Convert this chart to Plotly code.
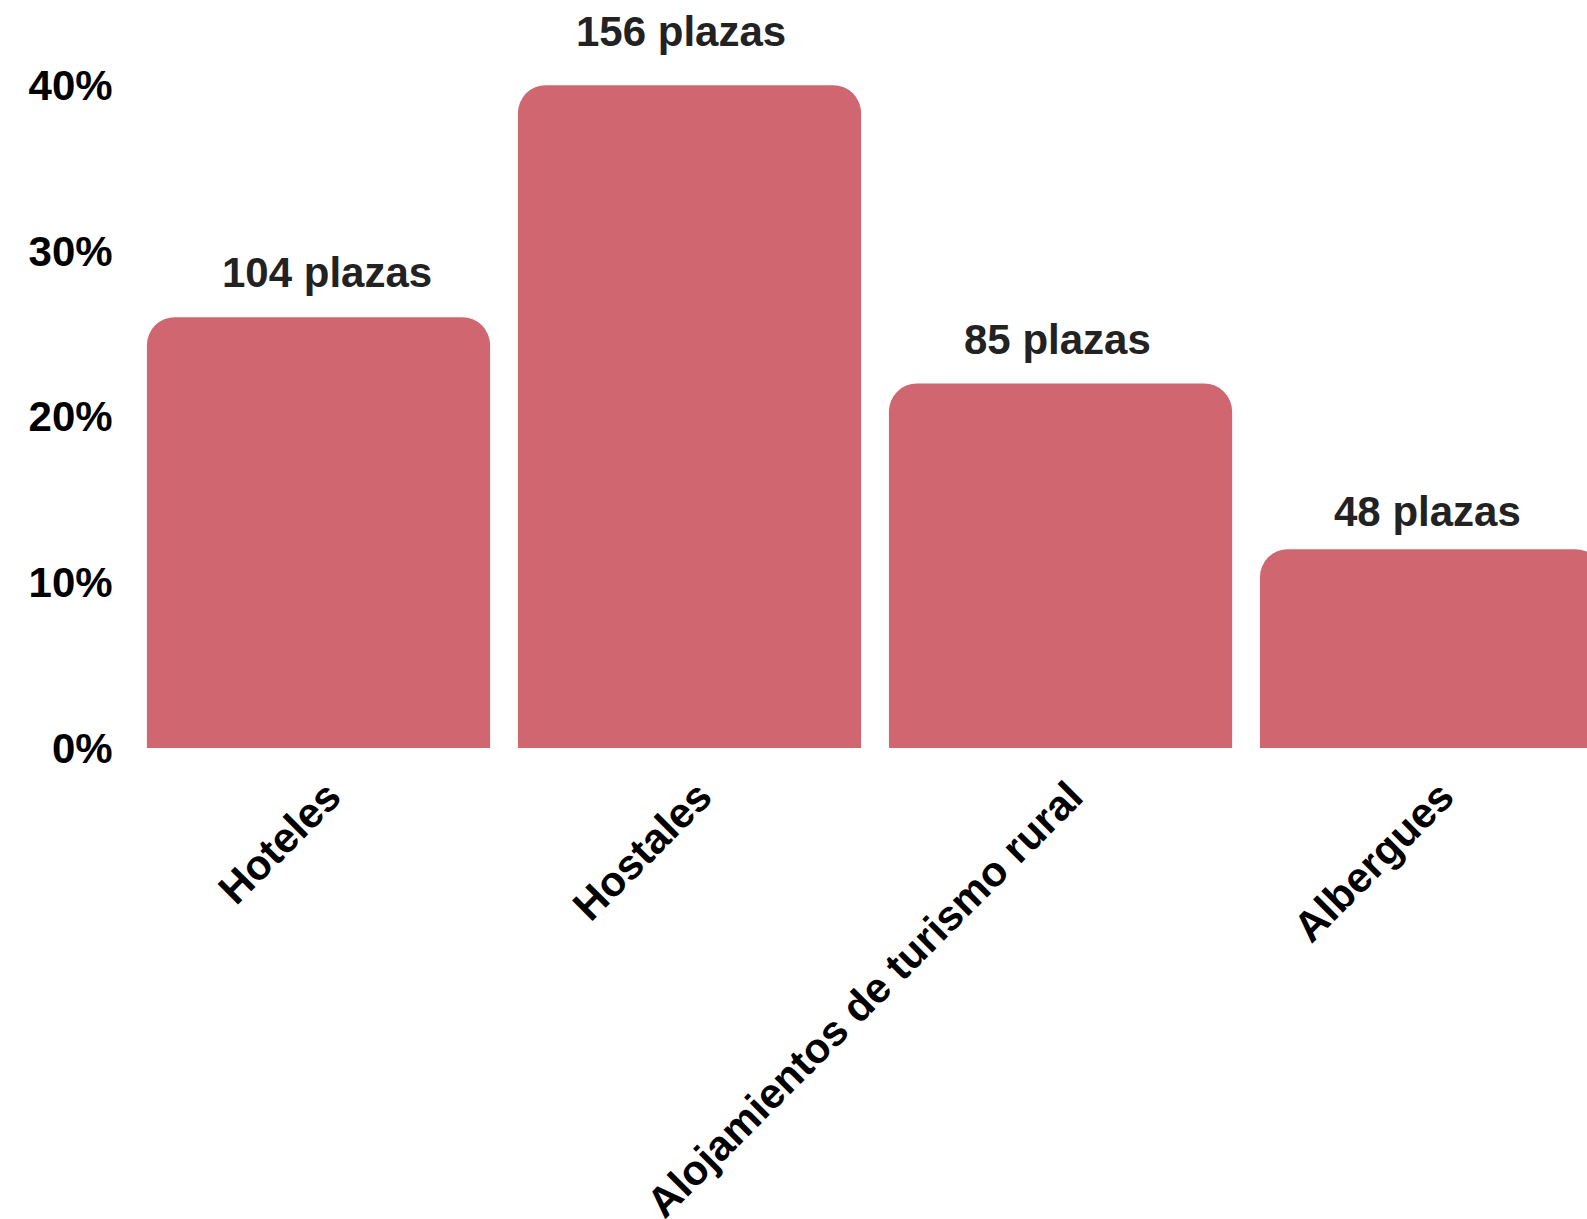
import plotly.graph_objects as go

categories = ["Hoteles", "Hostales", "Alojamientos de turismo rural", "Albergues"]
percentages = [26, 40, 22, 12]
plazas = [104, 156, 85, 48]
label_texts = [f"{p} plazas" for p in plazas]
y_tickvals = [0, 10, 20, 30, 40]
y_ticktext = ["0%", "10%", "20%", "30%", "40%"]

# small label placement offsets (pixels), styling only
label_xshift = [8, -8.5, -3, -4]
label_yshift = [19, 28, 18.5, 12.5]

BAR_COLOR = "rgb(207,102,112)"
FONT = "Liberation Sans, Arial, sans-serif"
FS = 42

fig = go.Figure()
fig.add_trace(go.Bar(
    x=categories,
    y=percentages,
    marker=dict(color=BAR_COLOR, line=dict(width=0)),
    hoverinfo="skip",
))

for c, v, t, dx, dy in zip(categories, percentages, label_texts, label_xshift, label_yshift):
    fig.add_annotation(
        x=c, y=v, text=f"<b>{t}</b>", showarrow=False,
        yanchor="bottom", xshift=dx, yshift=dy,
        font=dict(family=FONT, size=FS, color="#222222"),
    )

fig.update_layout(
    width=1587, height=1219,
    margin=dict(l=133, r=0, t=0, b=471, pad=0, autoexpand=False),
    paper_bgcolor="white", plot_bgcolor="white",
    bargap=0.075,
    barcornerradius=28,
    showlegend=False,
    font=dict(family=FONT, size=FS, color="#000000"),
)
fig.update_xaxes(
    range=[-0.5, 3.419],
    automargin=False,
    tickangle=-45,
    tickfont=dict(family=FONT, size=FS, color="#000000", weight="bold"),
    showgrid=False, zeroline=False, showline=False,
    ticks="outside", ticklen=6, tickcolor="rgba(0,0,0,0)",
    ticklabelshift=10,
)
fig.update_yaxes(
    range=[0, 45.14],
    automargin=False,
    tickvals=y_tickvals, ticktext=y_ticktext,
    tickfont=dict(family=FONT, size=FS, color="#000000", weight="bold"),
    showgrid=False, zeroline=False, showline=False,
    ticks="outside", ticklen=11, tickcolor="rgba(0,0,0,0)",
)

fig.write_html("out.html")
